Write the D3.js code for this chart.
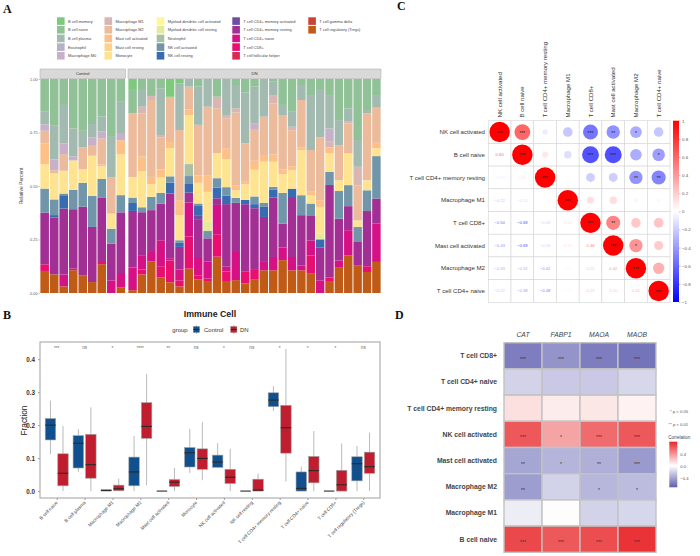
<!DOCTYPE html>
<html>
<head>
<meta charset="utf-8">
<script src="https://cdn.jsdelivr.net/npm/d3@7"></script>
<style>
  body { margin: 0; background: #fff; }
  svg { display: block; font-family: "Liberation Sans", Arial, sans-serif; }
  .gray-aa { opacity: 0.999; }
</style>
</head>
<body>
<div id="chart"></div>
<script>
// ---------- Panel A: relative immune cell fractions per sample ----------
const cellTypes = [
  'B cell memory', 'B cell naive', 'B cell plasma', 'Eosinophil', 'Macrophage M0',
  'Macrophage M1', 'Macrophage M2', 'Mast cell activated', 'Mast cell resting', 'Monocyte',
  'Myeloid dendritic cell activated', 'Myeloid dendritic cell resting', 'Neutrophil',
  'NK cell activated', 'NK cell resting', 'T cell CD4+ memory activated',
  'T cell CD4+ memory resting', 'T cell CD4+ naive', 'T cell CD8+',
  'T cell follicular helper', 'T cell gamma delta', 'T cell regulatory (Tregs)'
];
const groupNames = ['Control', 'DN'];
const groupSizes = [9, 27];

// 9 control samples, then 27 DN samples
const bCellMemory = [0, 0, 0, 0, 0, 0, 0, 0, 0,
  .051, 0, 0, 0, .083, .02, 0, 0, 0, 0, 0, 0, 0, 0, 0, 0, 0, 0, 0, 0, 0, 0, 0, 0, 0, 0, 0];
const bCellNaive = [.153, .218, .121, .23, .242, .21, .173, .27, .106,
  .109, .051, .079, .043, 0, 0, 0, .036, 0, .083, 0, .028, .062, .036, 0, .013, .121, .153, .028, .075, .051, .075, .192, .137, .285, .145, .075];
const bCellPlasma = [.059, .157, .179, .13, .078, .062, .07, .187, .145,
  0, .078, 0, .218, 0, .218, .036, .179, .129, 0, .168, .109, .238, .171, .176, .062, .047, .07, .07, .257, .221, .156, .117, .062, .125, .016, .059];
const macrophageM0 = [.03, .05, .05, .019, 0, .036, .034, 0, .034,
  0, 0, 0, 0, 0, 0, 0, 0, 0, 0, 0, 0, 0, .031, 0, 0, 0, 0, 0, 0, 0, .062, 0, 0, 0, 0, 0];
const macrophageM1 = [0, 0, 0, 0, 0, 0, 0, 0, 0,
  0, .031, .019, .011, 0, 0, 0, 0, 0, .054, .015, .019, 0, 0, 0, .039, 0, .016, 0, 0, 0, .026, 0, .008, .086, 0, 0];
const macrophageM2 = [.059, .015, .078, 0, .101, .05, .121, .171, 0,
  .296, .2, .358, .15, .21, .327, .106, .238, .322, .21, .14, .339, .176, .145, .179, .238, .254, .168, .221, .195, .293, 0, .164, .14, .164, .312, .164];
const mastActivated = [.097, 0, 0, 0, 0, 0, .008, 0, .065,
  0, .069, .034, .037, .028, .07, .027, .034, .075, 0, .051, .023, .015, .042, .031, .034, .022, .019, .013, .016, .031, .028, 0, 0, 0, 0, .026];
const monocyte = [.114, .121, .106, .137, .064, .187, .058, .07, .19,
  .096, .168, .059, .072, .132, .117, .229, .097, .14, .117, .131, .036, .073, .125, .192, .117, .087, .086, .21, .039, .124, .086, .05, .148, .031, .047, .036];
const mdcResting = [0, 0, 0, 0, 0, 0, 0, 0, 0,
  0, 0, 0, 0, 0, 0, 0, 0, .043, 0, 0, 0, 0, 0, 0, 0, 0, 0, 0, 0, .027, 0, 0, 0, 0, 0, 0];
const neutrophil = [0, 0, 0, 0, 0, 0, 0, 0, 0,
  0, 0, 0, 0, 0, 0, .056, 0, 0, 0, 0, 0, 0, 0, 0, 0, 0, 0, 0, 0, 0, 0, 0, 0, 0, 0, 0];
const nkActivated = [.112, .073, .008, .09, .112, .145, .086, .07, .08,
  .025, .023, .062, .05, .029, .012, .037, .012, .034, .044, .039, .023, 0, .036, .019, .012, .143, 0, .093, .055, 0, .062, .129, .098, .07, .097, .198];
const nkResting = [0, .011, .062, 0, 0, 0, 0, 0, 0,
  .037, 0, 0, 0, .051, .019, .04, .043, 0, .05, .04, 0, .02, .019, .047, .037, 0, .039, 0, 0, .039, 0, 0, 0, 0, 0, 0];
const cd4MemActivated = [0, 0, 0, 0, 0, 0, 0, 0, 0,
  0, 0, 0, 0, 0, 0, 0, .022, 0, 0, 0, 0, 0, 0, 0, 0, 0, 0, 0, 0, 0, 0, 0, 0, 0, 0, 0];
const cd4MemResting = [.242, .265, .308, .276, .32, .257, .30, .171, .282,
  .263, .2, .195, .171, .301, .106, .047, .174, .109, .031, .292, .229, .315, .285, .21, .278, .112, .28, .234, .117, .152, .432, .195, .112, .108, .258, .117];
const cd4Naive = [0, 0, .055, 0, 0, 0, 0, .059, .068,
  .106, .067, .043, .121, .011, .05, .159, .086, .078, .137, .023, .131, 0, 0, .039, .062, .059, .062, .023, .07, .059, 0, .031, .117, 0, 0, .179];
const cd8 = [.031, 0, 0, .008, 0, 0, .01, 0, 0,
  0, .022, 0, .053, .101, .028, .15, .019, .012, .105, .044, 0, .054, .047, 0, 0, 0, 0, 0, .086, 0, .016, 0, 0, 0, .027, 0];
const tregs = [.103, .087, .031, .106, .083, .051, .134, 0, .025,
  .013, .087, .148, .072, .05, .031, .114, .064, .056, .17, .056, .06, .045, .065, .106, .106, .153, .106, .106, .09, 0, .056, .121, .176, .13, .098, .145];

const fractions = new Map([
  ['B cell memory', bCellMemory], ['B cell naive', bCellNaive], ['B cell plasma', bCellPlasma],
  ['Macrophage M0', macrophageM0], ['Macrophage M1', macrophageM1], ['Macrophage M2', macrophageM2],
  ['Mast cell activated', mastActivated], ['Monocyte', monocyte],
  ['Myeloid dendritic cell resting', mdcResting], ['Neutrophil', neutrophil],
  ['NK cell activated', nkActivated], ['NK cell resting', nkResting],
  ['T cell CD4+ memory activated', cd4MemActivated], ['T cell CD4+ memory resting', cd4MemResting],
  ['T cell CD4+ naive', cd4Naive], ['T cell CD8+', cd8], ['T cell regulatory (Tregs)', tregs]
]);

// ---------- Panel B: box plot summaries (min, q1, median, q3, max) ----------
const boxCells = ['B cell naive', 'B cell plasma', 'Macrophage M1', 'Macrophage M2',
  'Mast cell activated', 'Monocyte', 'NK cell activated', 'NK cell resting',
  'T cell CD4+ memory resting', 'T cell CD4+ naive', 'T cell CD8+', 'T cell regulatory (Tregs)'];
const controlStats = [
  [.112, .155, .2, .22, .274], [.058, .07, .145, .168, .188], [0, 0, .002, .004, .005],
  [0, .016, .058, .103, .167], [0, 0, 0, 0, 0], [.055, .073, .116, .132, .189],
  [.07, .072, .088, .109, .145], [0, 0, 0, 0, 0], [.243, .256, .276, .298, .318],
  [0, 0, .008, .058, .074], [0, 0, 0, 0, 0], [0, .031, .083, .104, .137]
];
const dnStats = [
  [0, .016, .054, .113, .197], [0, .039, .08, .172, .254], [0, .001, .007, .018, .038],
  [.018, .16, .196, .268, .355], [0, .014, .027, .035, .07], [.033, .066, .099, .128, .209],
  [0, .023, .042, .066, .128], [0, 0, .003, .036, .053], [.029, .115, .192, .26, .431],
  [0, .025, .062, .105, .182], [0, 0, .019, .063, .144], [0, .054, .074, .118, .177]
];
const sigLabels = ['***', 'ns', '*', '****', '**', 'ns', '*', 'ns', '*', '*', '*', 'ns'];

// ---------- Panel C: correlation among immune cells ----------
const corrCells = ['NK cell activated', 'B cell naive', 'T cell CD4+ memory resting', 'Macrophage M1',
  'T cell CD8+', 'Mast cell activated', 'Macrophage M2', 'T cell CD4+ naive'];
const corrLower = [
  [1],
  [.60, 1],
  [-.07, .09, 1],
  [-.22, -.13, .01, 1],
  [-.54, -.68, -.19, .12, 1],
  [-.43, -.69, -.19, .13, .48, 1],
  [-.33, -.32, -.42, .04, .22, .42, 1],
  [-.22, -.38, -.48, .03, .23, .20, .31, 1]
];
const corrStars = [
  ['***'],
  ['***', '***'],
  ['', '', '***'],
  ['', '', '', '***'],
  ['***', '***', '', '', '***'],
  ['**', '***', '', '', '**', '***'],
  ['*', '', '**', '', '', '*', '***'],
  ['', '*', '**', '', '', '', '', '***']
];

// ---------- Panel D: genes vs immune cells ----------
const genes = ['CAT', 'FABP1', 'MAOA', 'MAOB'];
const heatCells = ['T cell CD8+', 'T cell CD4+ naive', 'T cell CD4+ memory resting', 'NK cell activated',
  'Mast cell activated', 'Macrophage M2', 'Macrophage M1', 'B cell naive'];
const heatValues = [
  [-.58, -.48, -.58, -.62],
  [-.2, -.24, -.24, -.18],
  [.12, .07, .09, .05],
  [.62, .34, .55, .62],
  [-.4, -.33, -.36, -.45],
  [-.44, -.2, -.32, -.3],
  [-.08, .01, -.2, -.18],
  [.68, .62, .66, .76]
];
const heatStars = [
  ['***', '***', '***', '***'],
  ['', '', '', ''],
  ['', '', '', ''],
  ['***', '*', '***', '***'],
  ['**', '*', '**', '***'],
  ['**', '', '*', '*'],
  ['', '', '', ''],
  ['***', '***', '***', '***']
];

// ====================================================================
const svg = d3.select('#chart').append('svg')
  .attr('width', 700).attr('height', 556);
svg.append('rect').attr('width', 700).attr('height', 556).attr('fill', '#fff');
const defs = svg.append('defs');

[['A', 3, 13], ['B', 3, 319], ['C', 397, 10], ['D', 395, 319]].forEach(([t, x, y]) => {
  svg.append('text').attr('x', x).attr('y', y).text(t)
    .attr('font-family', '"Liberation Serif", "DejaVu Serif", serif')
    .attr('font-weight', 'bold').attr('font-size', 12).attr('fill', '#111');
});

// ---------------- Panel A ----------------
const accent = ['#7FC97F', '#BEAED4', '#FDC086', '#FFFF99', '#386CB0', '#F0027F', '#BF5B17'];
const ramp = d3.piecewise(d3.interpolateRgb, accent);
const cellColor = d3.scaleOrdinal(cellTypes, cellTypes.map((d, i) => ramp(i / (cellTypes.length - 1))));

const samples = groupNames.flatMap((g, gi) =>
  d3.range(groupSizes[gi]).map(k => ({ id: `${g}-${k + 1}`, group: g })));
const rows = samples.map((s, i) => {
  const row = { id: s.id, group: s.group };
  cellTypes.forEach(t => { row[t] = fractions.has(t) ? fractions.get(t)[i] : 0; });
  return row;
});
const stacked = d3.stack()
  .keys(cellTypes.slice().reverse())
  .offset(d3.stackOffsetExpand)(rows);

const yA = d3.scaleLinear([0, 1], [293, 79]);
const facetRange = { Control: [40, 125.5], DN: [128, 381] };
const xA = {};
groupNames.forEach(g => {
  xA[g] = d3.scaleBand(samples.filter(s => s.group === g).map(s => s.id), facetRange[g])
    .paddingInner(0.1).paddingOuter(0.04);
});

const gA = svg.append('g');
groupNames.forEach(g => {
  const [x0, x1] = facetRange[g];
  gA.append('rect').attr('x', x0).attr('y', 69).attr('width', x1 - x0).attr('height', 9.5)
    .attr('fill', '#d9d9d9').attr('stroke', '#a6a6a6').attr('stroke-width', 0.5);
  gA.append('text').attr('x', (x0 + x1) / 2).attr('y', 75.4).attr('text-anchor', 'middle')
    .attr('font-size', 4.2).attr('fill', '#333').text(g);
});
stacked.forEach(layer => {
  gA.append('g').attr('fill', cellColor(layer.key))
    .selectAll('rect')
    .data(layer.filter(d => d[1] - d[0] > 0))
    .join('rect')
    .attr('x', d => xA[d.data.group](d.data.id))
    .attr('width', d => xA[d.data.group].bandwidth())
    .attr('y', d => yA(d[1]))
    .attr('height', d => yA(d[0]) - yA(d[1]));
});
gA.append('g').attr('transform', 'translate(40,0)')
  .call(d3.axisLeft(yA).tickValues([0, .25, .5, .75, 1]).tickFormat(d3.format('.2f')).tickSize(1.5))
  .call(g => g.select('.domain').remove())
  .call(g => g.selectAll('text').attr('font-size', 3.8).attr('fill', '#555').attr('x', -2.5))
  .call(g => g.selectAll('line').attr('stroke', '#777').attr('stroke-width', 0.4));
gA.append('text').attr('transform', 'translate(23,186) rotate(-90)')
  .attr('text-anchor', 'middle').attr('font-size', 5).attr('fill', '#444').text('Relative Percent');

// legend
const legX = [57, 104.5, 156.7, 232.3, 308.3];
const legA = gA.append('g').selectAll('g').data(cellTypes).join('g')
  .attr('transform', (d, i) => `translate(${legX[Math.floor(i / 5)]},${17.3 + (i % 5) * 8.67})`);
legA.append('rect').attr('width', 7.6).attr('height', 7.6).attr('fill', d => cellColor(d));
legA.append('text').attr('x', 11).attr('y', 5.3).attr('font-size', 3.9).attr('fill', '#444').text(d => d);

// ---------------- Panel B ----------------
const groupColor = { Control: '#11508f', DN: '#c01d2e' };
const xB = d3.scalePoint(boxCells, [40, 380]).padding(0.6);
const stepB = xB.step();
const yB = d3.scaleLinear([-0.021, 0.452], [498, 342]);
const gB = svg.append('g');

gB.append('text').attr('x', 210).attr('y', 317.3).attr('text-anchor', 'middle')
  .attr('font-size', 8.8).attr('font-weight', 'bold').attr('fill', '#222').text('Immune Cell');
gB.append('text').attr('x', 172.3).attr('y', 331.6).attr('font-size', 6).attr('fill', '#333').text('group');
[['Control', 193.3, 204], ['DN', 230.7, 240]].forEach(([g, sx, tx]) => {
  gB.append('line').attr('x1', sx + 3.1).attr('x2', sx + 3.1).attr('y1', 325).attr('y2', 334)
    .attr('stroke', '#777').attr('stroke-width', 0.5);
  gB.append('rect').attr('x', sx).attr('y', 326.5).attr('width', 6.2).attr('height', 6)
    .attr('fill', groupColor[g]).attr('stroke', '#888').attr('stroke-width', 0.4);
  gB.append('line').attr('x1', sx).attr('x2', sx + 6.2).attr('y1', 329.5).attr('y2', 329.5)
    .attr('stroke', '#222').attr('stroke-width', 0.8);
  gB.append('text').attr('x', tx).attr('y', 331.6).attr('font-size', 6).attr('fill', '#333').text(g);
});

gB.append('g').attr('transform', 'translate(40,0)')
  .call(d3.axisLeft(yB).tickValues([0, .1, .2, .3, .4]).tickFormat(d3.format('.1f')).tickSize(2))
  .call(g => g.select('.domain').remove())
  .call(g => g.selectAll('text').attr('font-size', 6.3).attr('font-weight', 'bold').attr('fill', '#333'))
  .call(g => g.selectAll('line').attr('stroke', '#555').attr('stroke-width', 0.6));
gB.append('g').attr('transform', 'translate(0,498)')
  .call(d3.axisBottom(xB).tickSize(2).tickFormat(''))
  .call(g => g.select('.domain').remove())
  .call(g => g.selectAll('line').attr('stroke', '#555').attr('stroke-width', 0.6));
gB.append('g').selectAll('text').data(boxCells).join('text')
  .attr('transform', d => `translate(${xB(d) + 1.5},${503}) rotate(-45)`)
  .attr('text-anchor', 'end').attr('font-size', 4.7).attr('fill', '#444').text(d => d);
gB.append('text').attr('transform', 'translate(26.5,420.5) rotate(-90)')
  .attr('text-anchor', 'middle').attr('font-size', 8.3).attr('fill', '#222').text('Fraction');

const boxes = boxCells.flatMap((c, i) => [
  { cell: c, group: 'Control', s: controlStats[i], dx: -0.225 },
  { cell: c, group: 'DN', s: dnStats[i], dx: 0.225 }
]);
const boxW = 0.375 * stepB;
const bg = gB.append('g').selectAll('g').data(boxes).join('g')
  .attr('transform', d => `translate(${xB(d.cell) + d.dx * stepB},0)`);
bg.append('line').attr('y1', d => yB(d.s[0])).attr('y2', d => yB(d.s[4]))
  .attr('stroke', '#8a8a8a').attr('stroke-width', 0.6);
bg.append('rect').attr('x', -boxW / 2).attr('width', boxW)
  .attr('y', d => yB(d.s[3])).attr('height', d => yB(d.s[1]) - yB(d.s[3]))
  .attr('fill', d => groupColor[d.group]).attr('stroke', '#a0a0a0').attr('stroke-width', 0.6);
bg.append('line').attr('x1', -boxW / 2).attr('x2', boxW / 2)
  .attr('y1', d => yB(d.s[2])).attr('y2', d => yB(d.s[2]))
  .attr('stroke', '#2a2a2a').attr('stroke-width', 1.1);

gB.append('g').selectAll('text').data(boxCells).join('text')
  .attr('x', d => xB(d)).attr('y', (d, i) => sigLabels[i] === 'ns' ? 348.6 : 349.6)
  .attr('text-anchor', 'middle').attr('font-size', 4.6).attr('fill', '#666')
  .text((d, i) => sigLabels[i]);
gB.append('rect').attr('x', 40).attr('y', 342).attr('width', 340).attr('height', 156)
  .attr('fill', 'none').attr('stroke', '#a8a8a8').attr('stroke-width', 1.1);

// ---------------- Panel C ----------------
const xC = d3.scaleBand(corrCells, [488.3, 670]);
const yC = d3.scaleBand(corrCells, [120.7, 302.3]);
const cw = xC.bandwidth();
const colorC = d3.scaleLinear([-1, 0, 1], ['#0000ff', '#ffffff', '#ff0000']);
const gC = svg.append('g');

const cellsC = corrCells.flatMap((r, i) => corrCells.map((c, j) => {
  const lo = i >= j ? [i, j] : [j, i];
  return { row: r, col: c, i, j, r: corrLower[lo[0]][lo[1]], star: corrStars[lo[0]][lo[1]] };
}));
gC.append('g').selectAll('rect').data(cellsC).join('rect')
  .attr('x', d => xC(d.col)).attr('y', d => yC(d.row))
  .attr('width', cw).attr('height', cw)
  .attr('fill', '#fff').attr('stroke', '#d4d4d4').attr('stroke-width', 0.6);
const upper = cellsC.filter(d => d.j >= d.i);
gC.append('g').selectAll('circle').data(upper).join('circle')
  .attr('cx', d => xC(d.col) + cw / 2).attr('cy', d => yC(d.row) + cw / 2)
  .attr('r', d => Math.sqrt(Math.abs(d.r)) * cw * 0.45)
  .attr('fill', d => colorC(d.r));
gC.append('g').selectAll('text').data(upper.filter(d => d.star)).join('text')
  .attr('x', d => xC(d.col) + cw / 2).attr('y', d => yC(d.row) + cw / 2 + 2.6)
  .attr('text-anchor', 'middle').attr('font-size', 5).attr('fill', '#222').text(d => d.star);
gC.append('g').selectAll('text').data(cellsC.filter(d => d.j < d.i)).join('text')
  .attr('x', d => xC(d.col) + cw / 2).attr('y', d => yC(d.row) + cw / 2 + 1.5)
  .attr('text-anchor', 'middle').attr('font-size', 4.2).attr('fill', d => colorC(d.r))
  .text(d => d3.format('.2f')(d.r));
gC.append('g').selectAll('text').data(corrCells).join('text')
  .attr('x', 485).attr('y', d => yC(d) + cw / 2 + 2.1)
  .attr('text-anchor', 'end').attr('font-size', 6.1).attr('fill', '#333').text(d => d);
gC.append('g').selectAll('text').data(corrCells).join('text')
  .attr('transform', d => `translate(${xC(d) + cw / 2 + 2.1},117.5) rotate(-90)`)
  .attr('font-size', 6.1).attr('fill', '#333').text(d => d);

const gradC = defs.append('linearGradient').attr('id', 'gradC')
  .attr('x1', 0).attr('x2', 0).attr('y1', 1).attr('y2', 0);
[-1, 0, 1].forEach((v, k) => gradC.append('stop').attr('offset', k / 2).attr('stop-color', colorC(v)));
const yCbar = d3.scaleLinear([-1, 1], [302, 120.7]);
gC.append('rect').attr('x', 673).attr('y', 120.7).attr('width', 6).attr('height', 181.3)
  .attr('fill', 'url(#gradC)');
gC.append('g').attr('transform', 'translate(679,0)')
  .call(d3.axisRight(yCbar).tickValues([-1, -.8, -.6, -.4, -.2, 0, .2, .4, .6, .8, 1])
    .tickFormat(d => d3.format('~g')(+d.toFixed(1))).tickSize(1.5))
  .call(g => g.select('.domain').remove())
  .call(g => g.selectAll('text').attr('font-size', 4.4).attr('fill', '#555').attr('x', 3))
  .call(g => g.selectAll('line').attr('stroke', '#666').attr('stroke-width', 0.4));

// ---------------- Panel D ----------------
const xD = d3.scaleBand(genes, [504, 656]);
const yD = d3.scaleBand(heatCells, [342.7, 552.3]);
const colorD = d3.scaleLinear([-0.72, 0, 0.8], ['#5e5eb0', '#ffffff', '#e8282b']);
const gD = svg.append('g');
const cellsD = heatCells.flatMap((r, i) => genes.map((g, j) =>
  ({ row: r, gene: g, v: heatValues[i][j], star: heatStars[i][j] })));
gD.append('g').selectAll('rect').data(cellsD).join('rect')
  .attr('x', d => xD(d.gene)).attr('y', d => yD(d.row))
  .attr('width', xD.bandwidth()).attr('height', yD.bandwidth())
  .attr('fill', d => colorD(d.v)).attr('stroke', '#c2c2c2').attr('stroke-width', 1.4);
gD.append('g').selectAll('text').data(cellsD.filter(d => d.star)).join('text')
  .attr('x', d => xD(d.gene) + xD.bandwidth() / 2).attr('y', d => yD(d.row) + yD.bandwidth() / 2 + 5)
  .attr('text-anchor', 'middle').attr('font-size', 5).attr('fill', '#333').text(d => d.star);
// row labels rendered in their own layer so they get plain grayscale antialiasing
gD.append('g').attr('class', 'gray-aa').selectAll('text').data(heatCells).join('text')
  .attr('x', 497).attr('y', d => yD(d) + yD.bandwidth() / 2 + 2.4)
  .attr('text-anchor', 'end').attr('font-size', 6.8).attr('font-weight', 'bold')
  .attr('fill', '#444').text(d => d);
gD.append('g').selectAll('text').data(genes).join('text')
  .attr('x', d => xD(d) + xD.bandwidth() / 2).attr('y', 337)
  .attr('text-anchor', 'middle').attr('font-size', 6.8).attr('font-style', 'italic')
  .attr('fill', '#444').text(d => d);

gD.append('text').attr('x', 670).attr('y', 412.5).attr('font-size', 4.2).attr('fill', '#555').text('* p < 0.05');
gD.append('text').attr('x', 668.5).attr('y', 426).attr('font-size', 4.2).attr('fill', '#555').text('** p < 0.01');
gD.append('text').attr('x', 668.3).attr('y', 438.7).attr('font-size', 4.5).attr('fill', '#444').text('Correlation');
const yDbar = d3.scaleLinear([-0.72, 0.8], [487.3, 441.7]);
const gradD = defs.append('linearGradient').attr('id', 'gradD')
  .attr('x1', 0).attr('x2', 0).attr('y1', 1).attr('y2', 0);
colorD.domain().forEach(v => gradD.append('stop')
  .attr('offset', (v + 0.72) / 1.52).attr('stop-color', colorD(v)));
gD.append('rect').attr('x', 669.3).attr('y', 441.7).attr('width', 8).attr('height', 45.6)
  .attr('fill', 'url(#gradD)');
gD.append('g').attr('transform', 'translate(677.3,0)')
  .call(d3.axisRight(yDbar).tickValues([-0.4, 0, 0.4]).tickFormat(d3.format('.1f')).tickSize(0))
  .call(g => g.select('.domain').remove())
  .call(g => g.selectAll('text').attr('font-size', 4.2).attr('fill', '#555').attr('x', 3));
</script>
</body>
</html>
